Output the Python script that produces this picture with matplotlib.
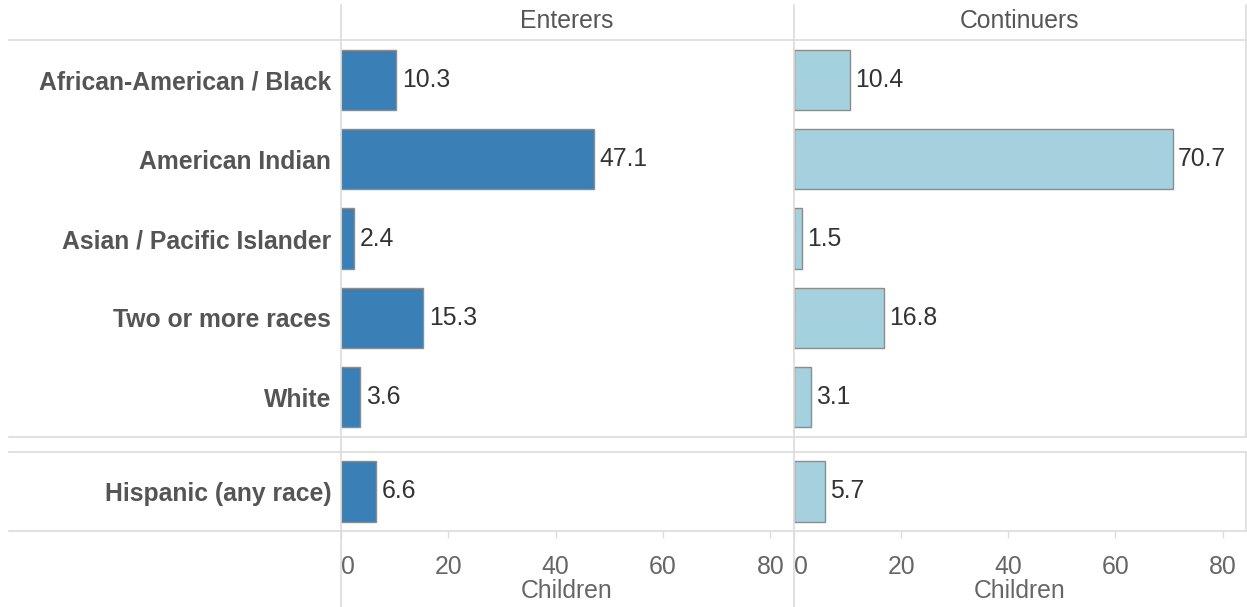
import matplotlib
matplotlib.use("Agg")
import matplotlib.pyplot as plt
from matplotlib.lines import Line2D

plt.rcParams['font.family'] = ['Liberation Sans', 'DejaVu Sans']

races = ["African-American / Black", "American Indian", "Asian / Pacific Islander",
         "Two or more races", "White"]
ethnicity = ["Hispanic (any race)"]
panels = ["Enterers", "Continuers"]
enterers_race = [10.3, 47.1, 2.4, 15.3, 3.6]
continuers_race = [10.4, 70.7, 1.5, 16.8, 3.1]
enterers_eth = [6.6]
continuers_eth = [5.7]
xticks = [0, 20, 40, 60, 80]
xlabel = "Children"

W, H = 1247, 607
fig = plt.figure(figsize=(W / 100, H / 100), dpi=100)

def fx(px):
    return px / W

def fy(py):
    return 1 - py / H

def add_ax(x0, x1, y0, y1):
    ax = fig.add_axes([fx(x0), fy(y1), fx(x1 - x0), (y1 - y0) / H])
    for s in ax.spines.values():
        s.set_visible(False)
    ax.set_facecolor('none')
    return ax

colors = ["#3a80b6", "#a5d0dd"]
edge = "#8c8c8c"
grid_c = "#dcdcdc"
FS = 17.8
XMAX = 84.2

cols = [(341, 793), (794, 1245)]
top_vals = [enterers_race, continuers_race]
bot_vals = [enterers_eth, continuers_eth]

for i, (x0, x1) in enumerate(cols):
    # top section
    ax = add_ax(x0, x1, 40, 437)
    ax.barh(range(len(races)), top_vals[i], height=0.76, color=colors[i],
            edgecolor=edge, linewidth=1.0)
    ax.set_ylim(len(races) - 0.5, -0.5)
    ax.set_xlim(0, XMAX)
    ax.set_xticks([])
    for j, v in enumerate(top_vals[i]):
        ax.annotate(f"{v:.1f}", (v, j), xytext=(4, 0), textcoords='offset points',
                    va='center', ha='left', fontsize=FS, color='#333333')
    if i == 0:
        ax.set_yticks(range(len(races)))
        ax.set_yticklabels(races, fontsize=FS, fontweight='bold', color='#555555')
        ax.tick_params(axis='y', length=0, pad=7)
    else:
        ax.set_yticks([])
    # header
    fig.text(fx((x0 + x1) / 2), fy(21), panels[i], ha='center', va='center',
             fontsize=FS, color='#555555')

    # bottom section
    ax2 = add_ax(x0, x1, 452, 531)
    ax2.barh(range(len(ethnicity)), bot_vals[i], height=0.76, color=colors[i],
             edgecolor=edge, linewidth=1.0)
    ax2.set_ylim(len(ethnicity) - 0.5, -0.5)
    ax2.set_xlim(0, XMAX)
    for j, v in enumerate(bot_vals[i]):
        ax2.annotate(f"{v:.1f}", (v, j), xytext=(4, 0), textcoords='offset points',
                     va='center', ha='left', fontsize=FS, color='#333333')
    if i == 0:
        ax2.set_yticks(range(len(ethnicity)))
        ax2.set_yticklabels(ethnicity, fontsize=FS, fontweight='bold', color='#555555')
        ax2.tick_params(axis='y', length=0, pad=7)
    else:
        ax2.set_yticks([])
    ax2.set_xticks(xticks)
    ax2.set_xticklabels([str(t) for t in xticks], fontsize=FS, color='#666666')
    ax2.tick_params(axis='x', length=5, width=1, color=grid_c, pad=12)
    labs = ax2.get_xticklabels()
    labs[0].set_horizontalalignment('left')
    ax2.set_xlabel(xlabel, fontsize=FS, color='#666666', labelpad=0)

# grid lines
def hline(y, xa=9, xb=1246):
    fig.add_artist(Line2D([fx(xa), fx(xb)], [fy(y), fy(y)], color=grid_c, lw=1.2))

def vline(x, ya, yb):
    fig.add_artist(Line2D([fx(x), fx(x)], [fy(ya), fy(yb)], color=grid_c, lw=1.2))

for y in [40, 437, 452, 531]:
    hline(y)
vline(340.5, 5, 607)
vline(793.5, 5, 607)
vline(1245.5, 5, 437)
vline(1245.5, 452, 531)

fig.savefig("out.png", dpi=100, facecolor='white')
